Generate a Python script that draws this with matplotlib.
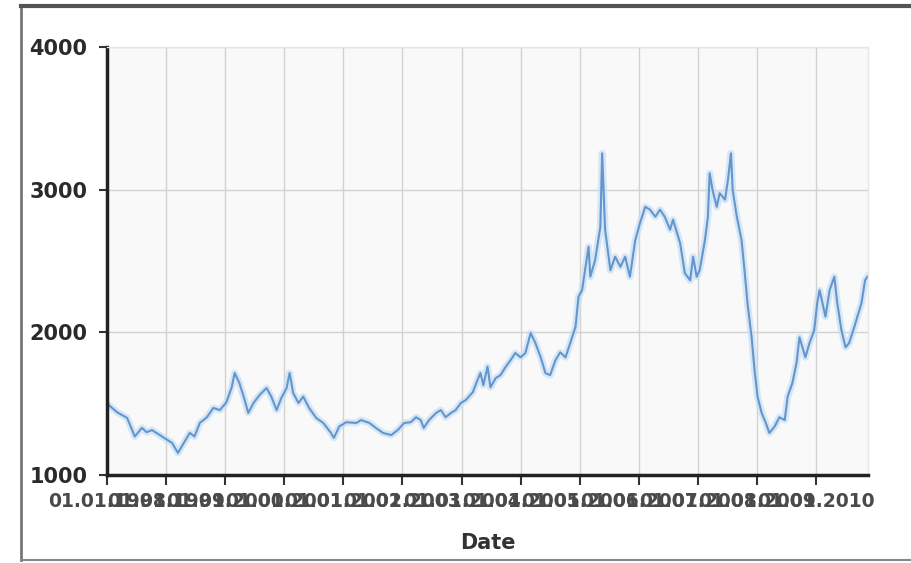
import matplotlib
matplotlib.use("Agg")
import matplotlib.pyplot as plt
from matplotlib.lines import Line2D

# decimal year of each reading and the value
years = [
    1998.03, 1998.17, 1998.34, 1998.47, 1998.59, 1998.67, 1998.76, 1998.93,
    1999.10, 1999.20, 1999.30, 1999.40, 1999.48, 1999.57, 1999.69, 1999.80, 1999.91,
    2000.02, 2000.11, 2000.16, 2000.24, 2000.33, 2000.39, 2000.48, 2000.58, 2000.70,
    2000.78, 2000.87, 2000.95,
    2001.04, 2001.09, 2001.15, 2001.24, 2001.32, 2001.42, 2001.54, 2001.66, 2001.79,
    2001.84, 2001.93,
    2002.05, 2002.22, 2002.30, 2002.44, 2002.55, 2002.67, 2002.81, 2002.92,
    2003.03, 2003.14, 2003.23, 2003.31, 2003.36, 2003.45, 2003.57, 2003.65, 2003.73,
    2003.82, 2003.90, 2003.99,
    2004.07, 2004.19, 2004.27, 2004.32, 2004.37, 2004.44, 2004.49, 2004.58, 2004.66,
    2004.75, 2004.83, 2004.91,
    2005.00, 2005.08, 2005.17, 2005.25, 2005.34, 2005.42, 2005.50, 2005.59, 2005.67,
    2005.76, 2005.84, 2005.93, 2005.98,
    2006.04, 2006.09, 2006.15, 2006.18, 2006.26, 2006.35, 2006.38, 2006.43, 2006.52,
    2006.60, 2006.69, 2006.77, 2006.85, 2006.94,
    2007.02, 2007.11, 2007.19, 2007.28, 2007.36, 2007.44, 2007.53, 2007.58, 2007.70,
    2007.78, 2007.87, 2007.92, 2007.98,
    2008.03, 2008.12, 2008.17, 2008.20, 2008.25, 2008.32, 2008.37, 2008.46, 2008.51,
    2008.56, 2008.59, 2008.66, 2008.74, 2008.79, 2008.84, 2008.91, 2008.96,
    2009.01, 2009.08, 2009.15, 2009.21, 2009.30, 2009.38, 2009.47, 2009.52, 2009.60,
    2009.67, 2009.72, 2009.77, 2009.82, 2009.89, 2009.97,
    2010.02, 2010.06, 2010.11, 2010.16, 2010.23, 2010.31, 2010.36, 2010.43, 2010.50,
    2010.56, 2010.65, 2010.70, 2010.77, 2010.83, 2010.87,
]
values = [
    1490, 1440, 1400, 1270, 1330, 1300, 1315, 1270,
    1225, 1155, 1225, 1295, 1270, 1365, 1405, 1470, 1455,
    1510, 1615, 1715, 1645, 1525, 1435, 1505, 1560, 1610,
    1550, 1455, 1540,
    1610, 1715, 1575, 1505, 1550, 1470, 1400, 1365, 1295,
    1260, 1340,
    1370, 1365, 1385, 1365, 1330, 1295, 1280, 1315,
    1365, 1370, 1405, 1385, 1330, 1385, 1435, 1455, 1405,
    1435, 1455, 1505,
    1525, 1580, 1665, 1715, 1630, 1760, 1615, 1680, 1700,
    1760, 1805, 1855,
    1825, 1855, 1995, 1925, 1825, 1715, 1700, 1805, 1860,
    1825, 1925, 2040, 2250,
    2295, 2435, 2600, 2390, 2505, 2740, 3255, 2720, 2435,
    2530, 2460, 2530, 2390, 2645,
    2765, 2880, 2860, 2810, 2860, 2810, 2720, 2790, 2625,
    2415, 2365, 2530, 2390,
    2435, 2645, 2810, 3115, 2995, 2880, 2975, 2930, 3070,
    3255, 2995, 2810, 2645, 2435, 2205, 1965, 1735,
    1550, 1435, 1365, 1295, 1340, 1405, 1385, 1550, 1645,
    1785, 1965, 1895, 1825, 1925, 2015,
    2205, 2295, 2205, 2110, 2295, 2390, 2205, 2015, 1895,
    1925, 2040, 2110, 2205, 2365, 2390,
]

tick_years = list(range(1998, 2011))
tick_labels = ["01.01.%d" % y for y in tick_years]
y_ticks = [1000, 2000, 3000, 4000]

fig = plt.figure(figsize=(9.11, 5.63), dpi=100)
ax = fig.add_axes([0.1175, 0.1563, 0.8353, 0.7602])
ax.set_facecolor("#f9f9f9")

# soft halo under the line, then the line itself
ax.plot(years, values, color="#c6def5", linewidth=5, alpha=0.7, solid_joinstyle="round")
ax.plot(years, values, color="#6496cc", linewidth=1.5, solid_joinstyle="round")

ax.set_xlim(1998.0, 2010.88)
ax.set_ylim(1000, 4000)
ax.set_xticks(tick_years)
ax.set_xticklabels(tick_labels)
ax.set_yticks(y_ticks)

ax.grid(True, color="#d2d2d2", linewidth=1)
ax.set_axisbelow(True)

for side in ["top", "right"]:
    ax.spines[side].set_color("#e6e6e6")
    ax.spines[side].set_linewidth(1)
for side in ["left", "bottom"]:
    ax.spines[side].set_color("#222222")
    ax.spines[side].set_linewidth(2.5)

ax.tick_params(axis="x", direction="out", length=7, width=1.5, color="#333333",
               pad=5, labelsize=13.5, labelcolor="#4a4a4a")
ax.tick_params(axis="y", direction="out", length=6, width=1.5, color="#333333",
               pad=8, labelsize=15, labelcolor="#2a2a2a")
for lab in ax.get_xticklabels() + ax.get_yticklabels():
    lab.set_fontweight("bold")

ax.set_xlabel("Date", fontsize=15, fontweight="bold", color="#333333", labelpad=16)

# frame round the picture (left, top and bottom edges)
fig.add_artist(Line2D([21 / 911, 21 / 911], [3 / 563, 557 / 563], transform=fig.transFigure,
                      color="#777777", linewidth=2))
fig.add_artist(Line2D([21 / 911, 1.0], [557 / 563, 557 / 563], transform=fig.transFigure,
                      color="#555555", linewidth=3))
fig.add_artist(Line2D([21 / 911, 1.0], [3 / 563, 3 / 563], transform=fig.transFigure,
                      color="#888888", linewidth=1.5))

fig.savefig("out.png", dpi=100)
plt.close(fig)
